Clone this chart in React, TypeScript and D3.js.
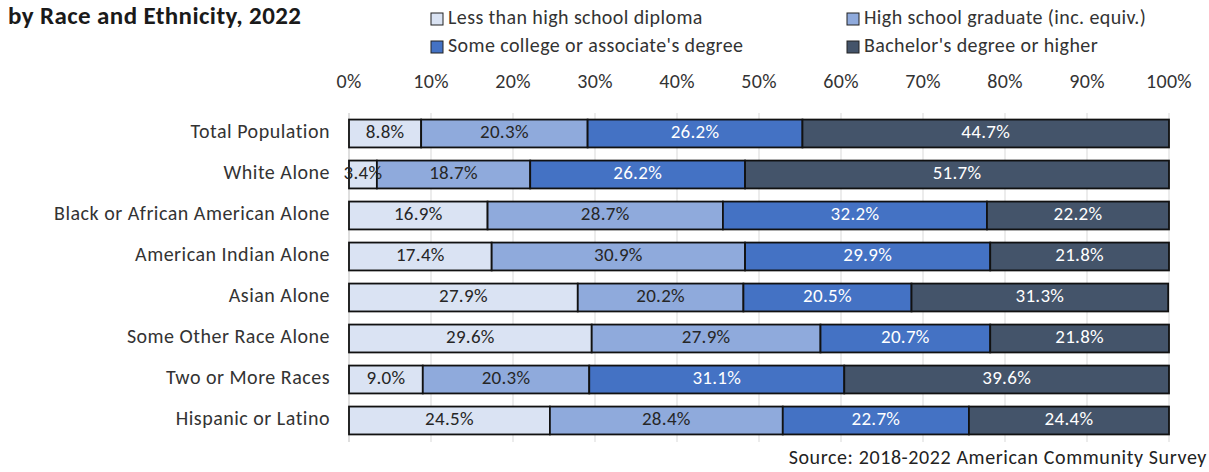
import * as d3 from "d3";

const CATEGORIES = [
  "Total Population",
  "White Alone",
  "Black or African American Alone",
  "American Indian Alone",
  "Asian Alone",
  "Some Other Race Alone",
  "Two or More Races",
  "Hispanic or Latino",
];

const SERIES = [
  "Less than high school diploma",
  "High school graduate (inc. equiv.)",
  "Some college or associate's degree",
  "Bachelor's degree or higher",
];

const LESS_THAN_HS = [8.8, 3.4, 16.9, 17.4, 27.9, 29.6, 9.0, 24.5];
const HS_GRAD = [20.3, 18.7, 28.7, 30.9, 20.2, 27.9, 20.3, 28.4];
const SOME_COLLEGE = [26.2, 26.2, 32.2, 29.9, 20.5, 20.7, 31.1, 22.7];
const BACHELORS = [44.7, 51.7, 22.2, 21.8, 31.3, 21.8, 39.6, 24.4];

const TICKS = [0, 10, 20, 30, 40, 50, 60, 70, 80, 90, 100];

const COLORS = ["#dae3f3", "#8faadc", "#4472c4", "#44546a"];
const TEXT_COLORS = ["#262626", "#262626", "#fff", "#fff"];

const WIDTH = 1209;
const HEIGHT = 472;
const MARGIN = { top: 113, right: 40, bottom: 31, left: 349 };
const BAND_STEP = 41;
const FONT = "Carlito, Lato, 'Liberation Sans', sans-serif";

type Row = { name: string; values: number[] };

export default function App() {
  const rows: Row[] = CATEGORIES.map((name, i) => ({
    name,
    values: [LESS_THAN_HS[i], HS_GRAD[i], SOME_COLLEGE[i], BACHELORS[i]],
  }));

  const x = d3
    .scaleLinear()
    .domain([0, 100])
    .range([MARGIN.left, WIDTH - MARGIN.right]);

  const y = d3
    .scaleBand()
    .domain(CATEGORIES)
    .range([MARGIN.top, MARGIN.top + BAND_STEP * CATEGORIES.length])
    .paddingInner(0.32)
    .paddingOuter(0.16);

  const gridBottom = MARGIN.top + BAND_STEP * CATEGORIES.length + 1;

  return (
    <div style={{ position: "fixed", left: 0, top: 0 }}>
      <svg width={WIDTH} height={HEIGHT} style={{ display: "block", background: "#fff" }}>
        {/* title (first line is cropped off in the source) */}
        <text x={8} y={24} fontFamily={FONT} fontWeight="bold" fontSize={25} letterSpacing={0.4} fill="#1a1a1a">
          by Race and Ethnicity, 2022
        </text>

        {/* legend */}
        {SERIES.map((s, i) => {
          const lx = i % 2 === 0 ? 431 : 847;
          const ly = i < 2 ? 19 : 47;
          return (
            <g key={s}>
              <rect x={lx} y={ly - 6} width={12} height={12} fill={COLORS[i]} stroke="#222" strokeWidth={1} />
              <text x={lx + 17} y={ly} dominantBaseline="middle" fontFamily={FONT} fontSize={20} letterSpacing={0.4} fill="#333">
                {s}
              </text>
            </g>
          );
        })}

        {/* grid + top axis labels */}
        <g>
          {TICKS.map((t) => (
            <g key={t}>
              <line
                x1={x(t)}
                x2={x(t)}
                y1={MARGIN.top}
                y2={gridBottom}
                stroke={t === 0 ? "#bfbfbf" : "#d9d9d9"}
                strokeWidth={1}
              />
              <text x={x(t)} y={83} textAnchor="middle" dominantBaseline="middle" fontFamily={FONT} fontSize={20} letterSpacing={0.3} fill="#333">
                {t}%
              </text>
            </g>
          ))}
        </g>

        {/* category labels */}
        {rows.map((r) => (
          <text
            key={r.name}
            x={MARGIN.left - 19}
            y={(y(r.name) ?? 0) + y.bandwidth() / 2}
            textAnchor="end"
            dominantBaseline="middle"
            fontFamily={FONT}
            fontSize={20}
            letterSpacing={0.5}
            fill="#333"
          >
            {r.name}
          </text>
        ))}

        {/* bars */}
        {rows.map((r) => {
          const y0 = y(r.name) ?? 0;
          const cum = d3.cumsum(r.values);
          return (
            <g key={r.name}>
              {r.values.map((v, i) => {
                const start = i === 0 ? 0 : cum[i - 1];
                const x0 = x(start);
                const x1 = x(start + v);
                return (
                  <rect
                    key={i}
                    x={x0}
                    y={y0}
                    width={x1 - x0}
                    height={y.bandwidth()}
                    fill={COLORS[i]}
                    stroke="#111"
                    strokeWidth={1.8}
                  />
                );
              })}
              {r.values.map((v, i) => {
                const start = i === 0 ? 0 : cum[i - 1];
                return (
                  <text
                    key={"t" + i}
                    x={x(start + v / 2)}
                    y={y0 + y.bandwidth() / 2}
                    textAnchor="middle"
                    dominantBaseline="middle"
                    fontFamily={FONT}
                    fontSize={19}
                    letterSpacing={0.3}
                    fill={TEXT_COLORS[i]}
                  >
                    {v.toFixed(1)}%
                  </text>
                );
              })}
            </g>
          );
        })}

        {/* source */}
        <text x={WIDTH - 2} y={459} textAnchor="end" dominantBaseline="middle" fontFamily={FONT} fontSize={20} letterSpacing={0.6} fill="#222">
          Source: 2018-2022 American Community Survey
        </text>
      </svg>
    </div>
  );
}
